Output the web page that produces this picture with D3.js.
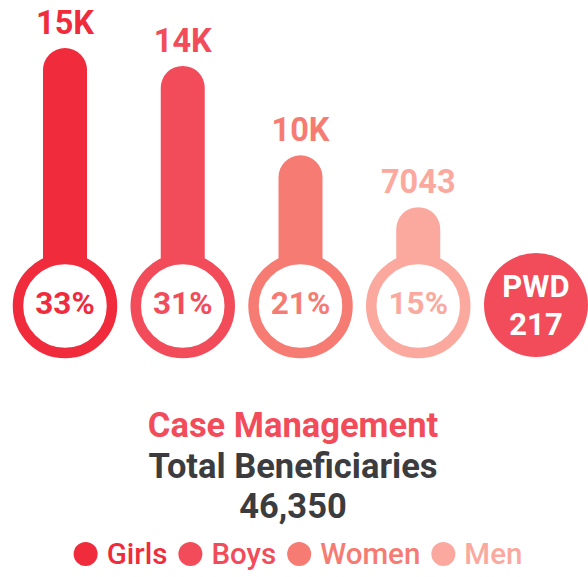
<!DOCTYPE html>
<html>
<head>
<meta charset="utf-8">
<script src="https://cdn.jsdelivr.net/npm/d3@7"></script>
<style>
  body { margin: 0; background: #fff; }
  svg { display: block; font-family: Roboto, "Noto Sans", sans-serif; }
</style>
</head>
<body>
<svg class="chart" width="588" height="577"></svg>
<script>
"use strict";

// beneficiaries by group (Case Management)
var groups = ["Girls", "Boys", "Women", "Men"];
var counts = [15296, 14369, 9734, 7043];
var colors = ["#f02b3c", "#f24c5a", "#f67b73", "#fba99e"];
var total = 46350;
var pwdLabel = "PWD";
var pwdCount = 217;
var titleText = "Case Management";
var subtitleText = "Total Beneficiaries";

function shortLabel(v) {
    return v >= 9500 ? Math.round(v / 1000) + "K" : String(v);
}

function drawChart() {
    var svg = d3.select("svg.chart");
    var cy = 306;
    var r = 47;
    var barW = 44;

    var x = d3.scalePoint().domain(groups.concat([pwdLabel])).range([65, 536]);
    var y = d3.scaleLinear().domain([0, d3.max(counts)]).range([343, 48]);

    var data = groups.map(function (g, i) {
        return { name: g, value: counts[i], color: colors[i] };
    });

    var item = svg.selectAll(".item").data(data).enter().append("g").attr("class", "item");

    // stem with rounded top
    item.append("rect").attr("x", function (d) {
        return x(d.name) - barW / 2;
    }).attr("y", function (d) {
        return y(d.value);
    }).attr("width", barW).attr("height", function (d) {
        return cy - y(d.value);
    }).attr("rx", barW / 2).attr("fill", function (d) {
        return d.color;
    });

    item.append("circle").attr("cx", function (d) {
        return x(d.name);
    }).attr("cy", cy).attr("r", r).attr("fill", "#fff").attr("stroke", function (d) {
        return d.color;
    }).attr("stroke-width", 10.5);

    item.append("text").attr("x", function (d) {
        return x(d.name);
    }).attr("y", cy + 7.5).attr("text-anchor", "middle").attr("font-size", 31.5).attr("font-weight", 700).attr("fill", function (d) {
        return d.color;
    }).text(function (d) {
        return Math.round(d.value / total * 100) + "%";
    });

    item.append("text").attr("x", function (d) {
        return x(d.name);
    }).attr("y", function (d) {
        return y(d.value) - 14;
    }).attr("text-anchor", "middle").attr("font-size", 32.5).attr("font-weight", 700).attr("fill", function (d) {
        return d.color;
    }).text(function (d) {
        return shortLabel(d.value);
    });

    // PWD bubble
    var pwd = svg.append("g").attr("class", "pwd");
    pwd.append("circle").attr("cx", x(pwdLabel)).attr("cy", cy - 1).attr("r", 52).attr("fill", "#f24c5a");
    pwd.append("text").attr("x", x(pwdLabel)).attr("y", 297).attr("text-anchor", "middle").attr("font-size", 31).attr("font-weight", 700).attr("fill", "#fff").text(pwdLabel);
    pwd.append("text").attr("x", x(pwdLabel)).attr("y", 335).attr("text-anchor", "middle").attr("font-size", 31).attr("font-weight", 700).attr("fill", "#fff").text(pwdCount);

    // titles
    var cx = 293;
    svg.append("text").attr("x", cx).attr("y", 437).attr("text-anchor", "middle").attr("font-size", 34.5).attr("font-weight", 700).attr("fill", "#f24c5a").text(titleText);
    svg.append("text").attr("x", cx).attr("y", 478).attr("text-anchor", "middle").attr("font-size", 34.5).attr("font-weight", 700).attr("fill", "#3c3c3e").text(subtitleText);
    svg.append("text").attr("x", cx).attr("y", 518).attr("text-anchor", "middle").attr("font-size", 34.5).attr("font-weight", 700).attr("fill", "#3c3c3e").text(d3.format(",")(total));

    // legend
    var legend = svg.append("g").attr("class", "legend");
    var offset = 0;
    data.forEach(function (d) {
        var g = legend.append("g").attr("transform", "translate(" + offset + ", 0)");
        g.append("circle").attr("cx", 12).attr("cy", 554).attr("r", 12).attr("fill", d.color);
        var t = g.append("text").attr("x", 33).attr("y", 564).attr("font-size", 29.5).attr("font-weight", 500).attr("fill", d.color).text(d.name);
        offset += 33 + t.node().getComputedTextLength() + 11;
    });
    var legendW = offset - 11;
    legend.attr("transform", "translate(" + (298 - legendW / 2) + ", 0)");
}

drawChart();
</script>
</body>
</html>
